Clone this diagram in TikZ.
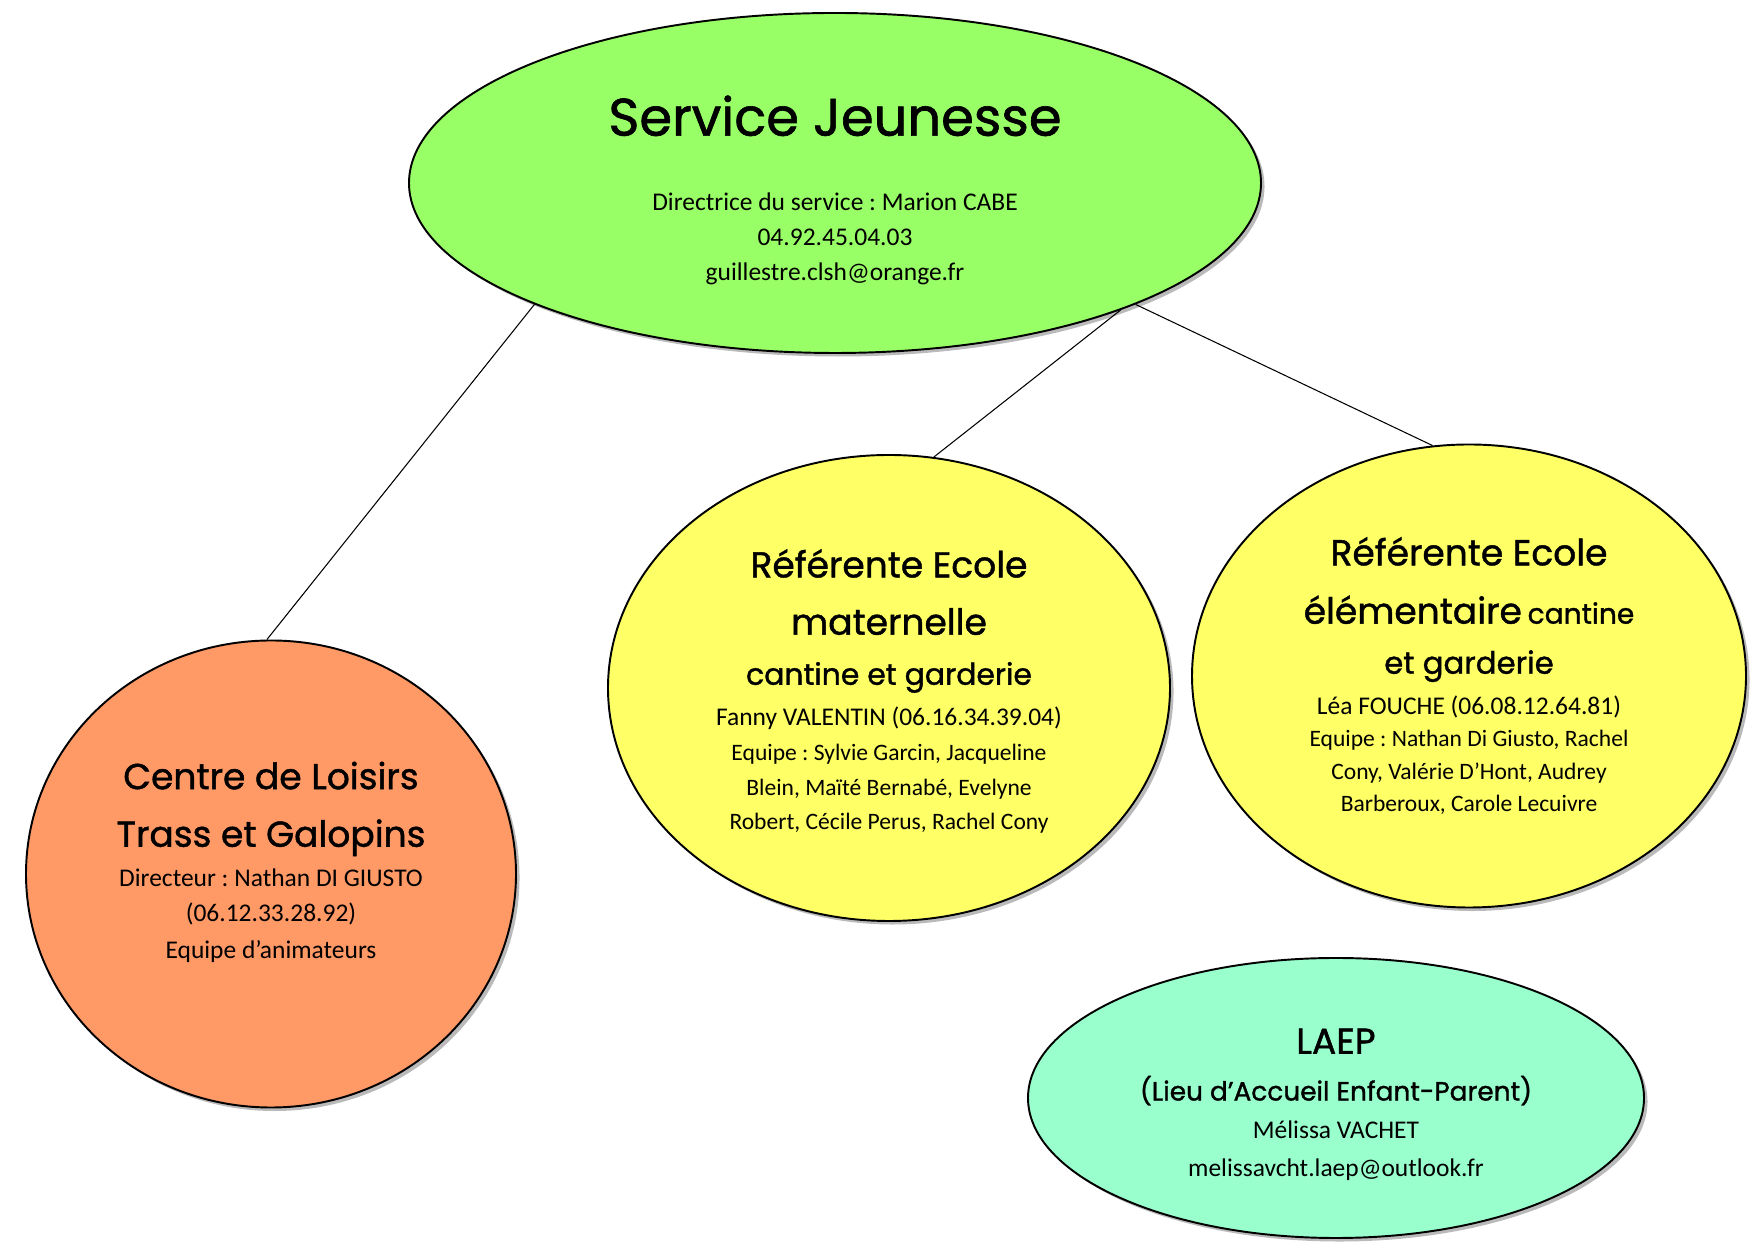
\documentclass[tikz,border=0pt]{standalone}
\usepackage{fontspec}
\setmainfont{Carlito}
\newfontfamily\comicfont{Poppins}[FakeBold=1.2]
\usetikzlibrary{shapes.geometric,shadows}

\definecolor{servgreen}{HTML}{99FF66}
\definecolor{loisorange}{HTML}{FF9966}
\definecolor{ecoleyellow}{HTML}{FFFF66}
\definecolor{laepmint}{HTML}{99FFCC}

\newcommand{\bigtitle}[1]{{\comicfont\fontsize{30}{34}\selectfont #1}}
\newcommand{\unittitle}[1]{{\comicfont\fontsize{20.5}{24}\selectfont #1}}
\newcommand{\smalltitle}[2][17]{{\comicfont\fontsize{#1}{20}\selectfont #2}}
\newcommand{\team}[1]{{\fontsize{13.4}{18}\selectfont #1}}
\newcommand{\lift}[1]{\rule{0pt}{#1}}
\newcommand{\sink}[1]{\rule[-#1]{0pt}{#1}}

\begin{document}
\frenchspacing
\begin{tikzpicture}
    \tikzstyle{unit} = [ellipse, draw=black, line width=1.1pt, inner sep=0pt, align=center,
        font=\fontsize{14.5}{19.8}\selectfont,
        drop shadow={shadow xshift=2pt, shadow yshift=-2pt, opacity=0.45, fill=black!60}]
    \tikzstyle{link} = [draw=black, line width=0.6pt]

    \useasboundingbox (0,0) rectangle (35.22,25.06);

    % Service head
    \node [unit, fill=servgreen, minimum width=17.04cm, minimum height=6.8cm] (jeunesse) at (16.70,21.40)
        {\lift{31pt}\bigtitle{Service Jeunesse}\\[23pt]
         Directrice du service : Marion CABE\\
         04.92.45.04.03\\
         guillestre.clsh@orange.fr};

    % Centre de loisirs
    \node [unit, fill=loisorange, minimum width=9.8cm, minimum height=9.34cm] (loisirs) at (5.42,7.58)
        {\unittitle{Centre de Loisirs}\\[13pt]
         \unittitle{Trass et Galopins}\\[3pt]
         Directeur : Nathan DI GIUSTO\\
         (06.12.33.28.92)\\[1pt]
         Equipe d’animateurs\sink{16pt}};

    % Ecoles
    \node [unit, fill=ecoleyellow, minimum width=11.24cm, minimum height=9.32cm] (maternelle) at (17.78,11.30)
        {\lift{20pt}\unittitle{Référente Ecole}\\[12.8pt]
         \unittitle{maternelle}\\[8.7pt]
         \smalltitle{cantine et garderie}\\[3.4pt]
         Fanny VALENTIN (06.16.34.39.04)\\
         \team{Equipe : Sylvie Garcin, Jacqueline}\\
         \team{Blein, Maïté Bernabé, Evelyne}\\
         \team{Robert, Cécile Perus, Rachel Cony}};

    \node [unit, fill=ecoleyellow, minimum width=11.08cm, minimum height=9.26cm,
        font=\fontsize{14.5}{18.5}\selectfont] (elementaire) at (29.38,11.54)
        {\unittitle{Référente Ecole}\\[14.7pt]
         \unittitle{élémentaire} \smalltitle[16]{cantine}\\[10pt]
         \smalltitle[17.5]{et garderie}\\[4.6pt]
         Léa FOUCHE (06.08.12.64.81)\\
         \team{Equipe : Nathan Di Giusto, Rachel}\\
         \team{Cony, Valérie D’Hont, Audrey}\\
         \team{Barberoux, Carole Lecuivre}};

    % LAEP
    \node [unit, fill=laepmint, minimum width=12.32cm, minimum height=5.6cm,
        font=\fontsize{14.5}{21.7}\selectfont] (laep) at (26.72,3.10)
        {\lift{22pt}\unittitle{LAEP}\\[4.9pt]
         \smalltitle[15]{(Lieu d’Accueil Enfant-Parent)}\\
         Mélissa VACHET\\
         melissavcht.laep@outlook.fr};

    % Connections
    \draw [link] (jeunesse.202) -- (loisirs.91);
    \draw [link] (jeunesse.336) -- (maternelle.79);
    \draw [link] (jeunesse.338) -- (elementaire.99);
\end{tikzpicture}
\end{document}
